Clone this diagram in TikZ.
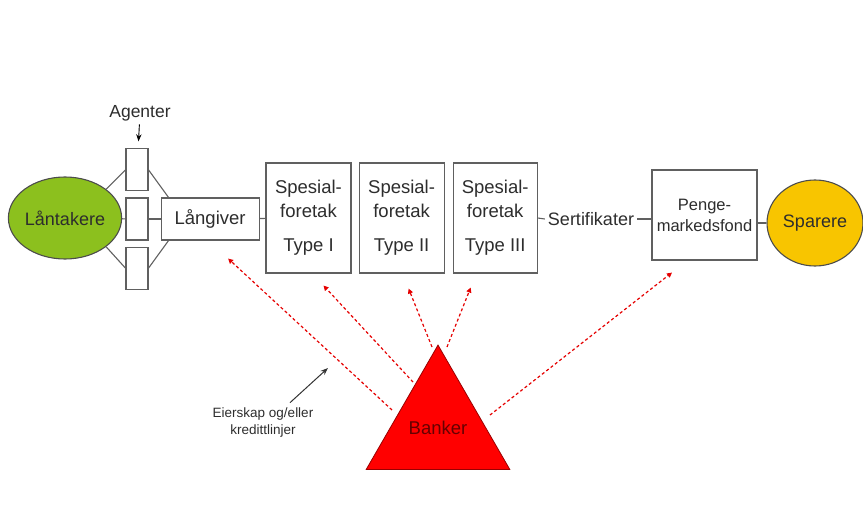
\documentclass[tikz,border=0pt]{standalone}
\usepackage{fontspec}
\setmainfont{Liberation Sans}
\usetikzlibrary{shapes.geometric,positioning,arrows.meta}
\definecolor{lgreen}{RGB}{140,192,30}
\definecolor{sgold}{RGB}{248,197,0}
\definecolor{txt}{RGB}{45,45,45}

\begin{document}
\begin{tikzpicture}[x=1pt,y=-1pt,>=Stealth,
    box/.style={draw=gray!75!black,line width=1.1pt,fill=white,inner sep=0pt,align=center,text=txt},
    blob/.style={ellipse,draw=gray!60!black,line width=1.1pt,inner sep=0pt,text=txt,font=\fontsize{18}{22}\selectfont},
    link/.style={draw=gray!75!black,line width=1.1pt},
    eier/.style={draw=red!90!black,line width=1.2pt,dash pattern=on 3pt off 2.5pt,-{Triangle[length=5pt,width=5pt]}}]
    \useasboundingbox (0,0) rectangle (863,506);

    \node[blob,fill=lgreen,minimum width=106pt,minimum height=82pt] (lan) at (65,218) {Låntakere};
    \node[box,minimum width=22pt,minimum height=42pt] (a2) at (137,219) {};
    \node[box,minimum width=22pt,minimum height=42pt,above=6pt of a2] (a1) {};
    \node[box,minimum width=22pt,minimum height=42pt,below=6pt of a2] (a3) {};
    \node[text=txt,font=\fontsize{17.5}{20}\selectfont] (agt) at (140,113) {Agenter};
    \node[box,minimum width=98pt,minimum height=42pt,right=12pt of a2,font=\fontsize{18.5}{22}\selectfont] (lg) {Långiver};

    \node[box,minimum width=85pt,minimum height=110pt,font=\fontsize{18.5}{24}\selectfont] (s1) at (308.5,218) {Spesial-\\foretak\\[10pt]Type I};
    \node[box,minimum width=85pt,minimum height=110pt,right=7pt of s1,font=\fontsize{18.5}{24}\selectfont] (s2) {Spesial-\\foretak\\[10pt]Type II};
    \node[box,minimum width=84pt,minimum height=110pt,right=8pt of s2,font=\fontsize{18.5}{24}\selectfont] (s3) {Spesial-\\foretak\\[10pt]Type III};
    \node[text=txt,inner sep=3pt,font=\fontsize{18}{22}\selectfont] (sert) at (591,219) {Sertifikater};
    \node[box,minimum width=105pt,minimum height=90pt,font=\fontsize{16.5}{21}\selectfont] (pmf) at (704.5,215) {Penge-\\markedsfond};
    \node[blob,fill=sgold,minimum width=96pt,minimum height=86pt] (spa) at (815,223) {Sparere};

    \node[regular polygon,regular polygon sides=3,minimum size=152pt,inner sep=0pt,fill=red,draw=red!60!black,line width=0.8pt,text=red!40!black,font=\fontsize{18.5}{22}\selectfont] (bank) at (438,428) {Banker};
    \node[text=txt,align=center,font=\fontsize{13.5}{17}\selectfont] (eierlbl) at (263,423) {Eierskap og/eller\\kredittlinjer};
    \coordinate (pil) at (328,368);

    \draw[link] (lan) -- (a2);
    \draw[link] (lan.35) -- (a1.west);
    \draw[link] (lan.-35) -- (a3.west);
    \draw[link] (a2) -- (lg);
    \draw[link] (a1.east) -- ([xshift=8pt]lg.north west);
    \draw[link] (a3.east) -- ([xshift=8pt]lg.south west);
    \draw[link] (lg) -- (s1);
    \draw[link] (s3.east) -- (sert.west);
    \draw[link] (sert.east) -- (sert.east -| pmf.west);
    \draw[link] (spa.west -| pmf.east) -- (spa.west);
    \draw[->,line width=0.9pt,shorten >=7pt] (agt) -- (a1);
    \draw[->,line width=1pt,black!80] ([shift={(27,-2)}]eierlbl.north) -- (pil);

    \draw[eier] ([shift={(-46,-18)}]bank.center) -- ([shift={(18,18)}]lg.south);
    \draw[eier] ([shift={(-25,-46)}]bank.center) -- ([shift={(15,12)}]s1.south);
    \draw[eier] ([shift={(-6,-81)}]bank.center) -- ([shift={(7,15)}]s2.south);
    \draw[eier] ([shift={(9,-81)}]bank.center) -- ([shift={(-24.5,14)}]s3.south);
    \draw[eier] ([shift={(52,-13)}]bank.center) -- ([shift={(-32.5,12)}]pmf.south);
\end{tikzpicture}
\end{document}
